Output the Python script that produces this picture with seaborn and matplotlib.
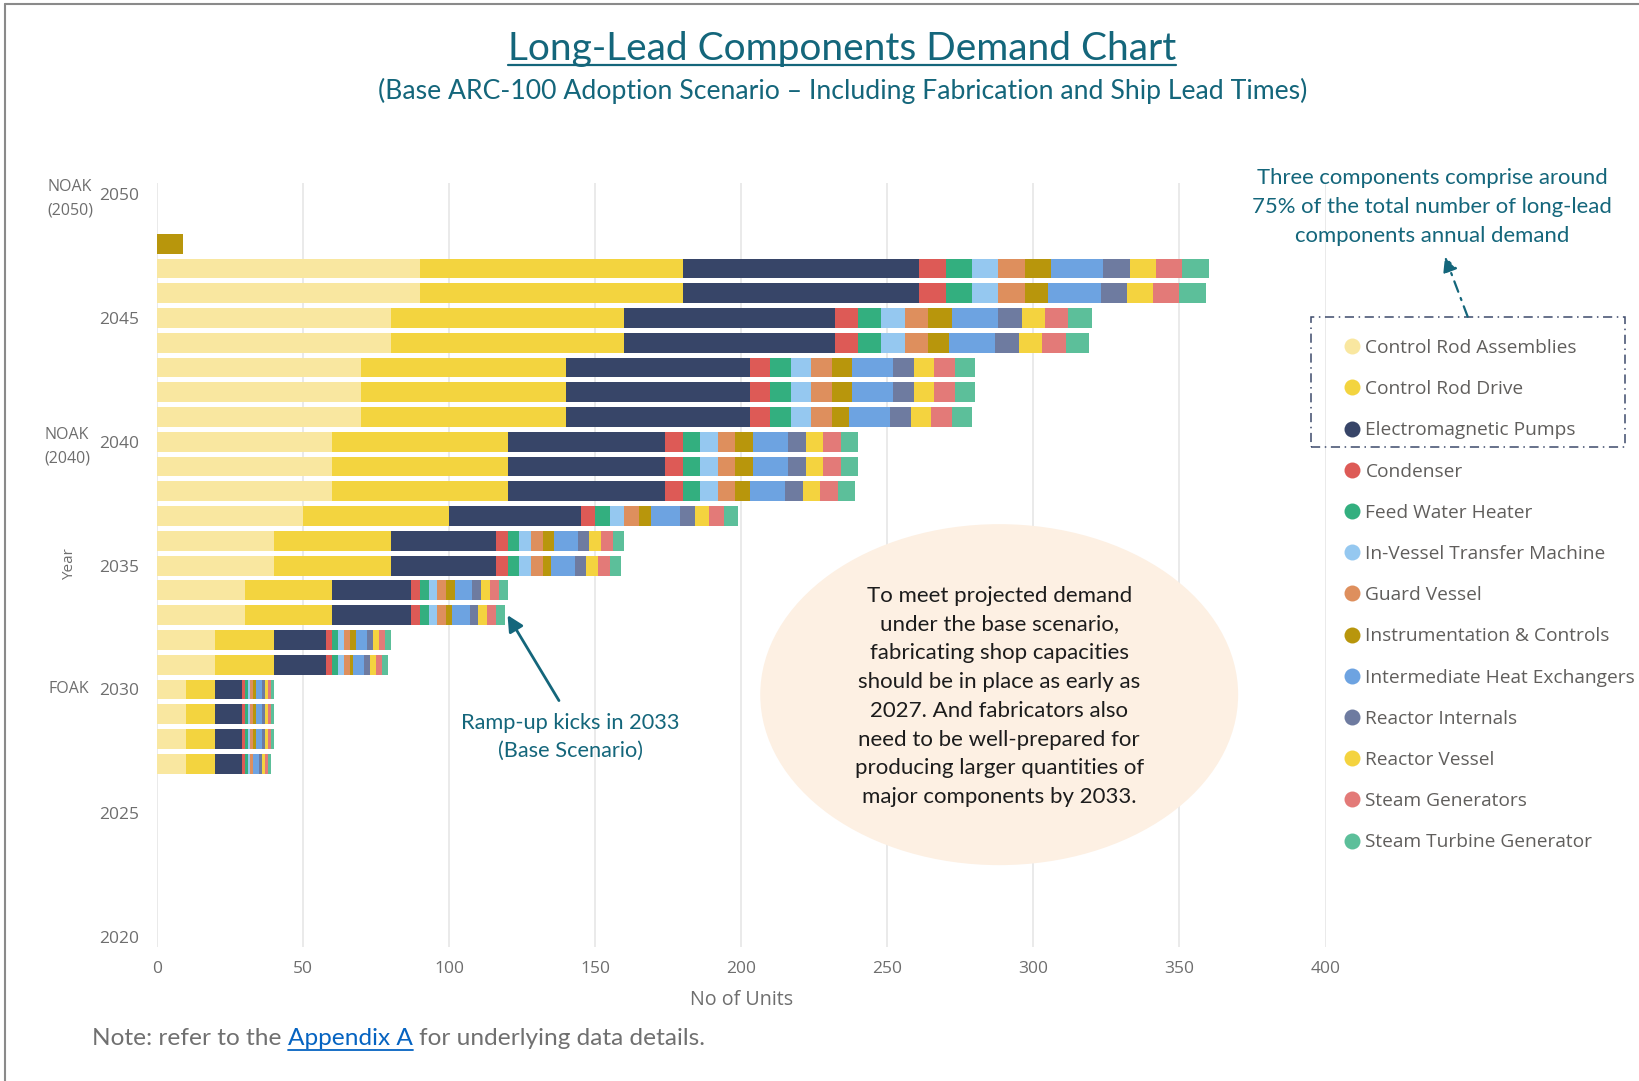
import matplotlib
matplotlib.use("Agg")
import matplotlib.pyplot as plt
from matplotlib.lines import Line2D
from matplotlib.patches import Ellipse, Rectangle, FancyArrowPatch
import numpy as np
import seaborn as sns

# annual demand (units) for each long-lead component, 2027 -> 2048
years = [2027, 2028, 2029, 2030, 2031, 2032, 2033, 2034, 2035, 2036, 2037,
         2038, 2039, 2040, 2041, 2042, 2043, 2044, 2045, 2046, 2047, 2048]

control_rod_assemblies = [10, 10, 10, 10, 20, 20, 30, 30, 40, 40, 50, 60, 60, 60, 70, 70, 70, 80, 80, 90, 90, 0]
control_rod_drive = [10, 10, 10, 10, 20, 20, 30, 30, 40, 40, 50, 60, 60, 60, 70, 70, 70, 80, 80, 90, 90, 0]
electromagnetic_pumps = [9, 9, 9, 9, 18, 18, 27, 27, 36, 36, 45, 54, 54, 54, 63, 63, 63, 72, 72, 81, 81, 0]
condenser = [1, 1, 1, 1, 2, 2, 3, 3, 4, 4, 5, 6, 6, 6, 7, 7, 7, 8, 8, 9, 9, 0]
feed_water_heater = [1, 1, 1, 1, 2, 2, 3, 3, 4, 4, 5, 6, 6, 6, 7, 7, 7, 8, 8, 9, 9, 0]
in_vessel_transfer = [1, 1, 1, 1, 2, 2, 3, 3, 4, 4, 5, 6, 6, 6, 7, 7, 7, 8, 8, 9, 9, 0]
guard_vessel = [1, 1, 1, 1, 2, 2, 3, 3, 4, 4, 5, 6, 6, 6, 7, 7, 7, 8, 8, 9, 9, 0]
instrumentation = [0, 1, 1, 1, 1, 2, 2, 3, 3, 4, 4, 5, 6, 6, 6, 7, 7, 7, 8, 8, 9, 9]
heat_exchangers = [2, 2, 2, 2, 4, 4, 6, 6, 8, 8, 10, 12, 12, 12, 14, 14, 14, 16, 16, 18, 18, 0]
reactor_internals = [1, 1, 1, 1, 2, 2, 3, 3, 4, 4, 5, 6, 6, 6, 7, 7, 7, 8, 8, 9, 9, 0]
reactor_vessel = [1, 1, 1, 1, 2, 2, 3, 3, 4, 4, 5, 6, 6, 6, 7, 7, 7, 8, 8, 9, 9, 0]
steam_generators = [1, 1, 1, 1, 2, 2, 3, 3, 4, 4, 5, 6, 6, 6, 7, 7, 7, 8, 8, 9, 9, 0]
steam_turbine = [1, 1, 1, 1, 2, 2, 3, 3, 4, 4, 5, 6, 6, 6, 7, 7, 7, 8, 8, 9, 9, 0]

components = ["Control Rod Assemblies", "Control Rod Drive", "Electromagnetic Pumps",
              "Condenser", "Feed Water Heater", "In-Vessel Transfer Machine",
              "Guard Vessel", "Instrumentation & Controls", "Intermediate Heat Exchangers",
              "Reactor Internals", "Reactor Vessel", "Steam Generators",
              "Steam Turbine Generator"]
series = [control_rod_assemblies, control_rod_drive, electromagnetic_pumps, condenser,
          feed_water_heater, in_vessel_transfer, guard_vessel, instrumentation,
          heat_exchangers, reactor_internals, reactor_vessel, steam_generators, steam_turbine]
colors = ["#F9E7A0", "#F3D43F", "#374568", "#DD5A56", "#33AF7F", "#95C8F0", "#DE8F5D",
          "#B8960C", "#6DA3E1", "#6E7BA0", "#F4D33F", "#E37A78", "#5CBF9A"]

TEAL = "#14667B"
GRAY = "#6E6E6E"
W, H = 1639, 1081


def fx(px):
    return px / W


def fy(py):
    return 1 - py / H


sns.set_style("white")
plt.rcParams["font.family"] = ["Open Sans", "DejaVu Sans"]

fig = plt.figure(figsize=(W / 100, H / 100), dpi=100)
ax = fig.add_axes([fx(157), fy(947), (1325.5 - 157) / W, (947 - 183) / H])

# stacked bars: draw running totals from the largest down so each segment shows
totals = np.cumsum(np.array(series), axis=0)
yrs = np.array(years)
for i in range(len(components) - 1, -1, -1):
    sns.barplot(x=totals[i], y=yrs, orient="y", native_scale=True, color=colors[i],
                saturation=1, width=0.8, linewidth=0, errorbar=None, ax=ax)

ax.set_xlim(0, 400)
ax.set_ylim(2019.6, 2050.45)
ax.set_xticks(range(0, 401, 50))
ax.set_yticks(range(2020, 2051, 5))
ax.grid(axis="x", color="#E6E6E6", lw=1.2)
ax.grid(axis="y", visible=False)
ax.set_axisbelow(True)
sns.despine(ax=ax, left=True, bottom=True)
ax.tick_params(axis="both", length=0, labelsize=12.5, labelcolor=GRAY)
ax.tick_params(axis="x", pad=10)
ax.tick_params(axis="y", pad=13)
ax.set_ylabel("")
ax.set_xlabel("No of Units", fontsize=14.2, color=GRAY)
ax.xaxis.set_label_coords(0.5, -0.056)

# callout bubble
bubble = Ellipse((288.3, 2029.79), width=163.6, height=13.77, facecolor="#FDF0E3",
                 edgecolor="none", zorder=2)
ax.add_patch(bubble)
ax.text(288.3, 2029.72,
        "To meet projected demand\nunder the base scenario,\nfabricating shop capacities\n"
        "should be in place as early as\n2027. And fabricators also\nneed to be well-prepared for\n"
        "producing larger quantities of\nmajor components by 2033.",
        ha="center", va="center", family="Lato", fontsize=16.0, color="#1C1C1C",
        linespacing=1.55, zorder=3)

# ramp-up callout
ax.annotate("", xy=(120, 2033), xytext=(137.6, 2029.55),
            arrowprops=dict(arrowstyle="-|>", color=TEAL, lw=2, mutation_scale=24,
                            shrinkA=0, shrinkB=0))
ax.text(141.4, 2028.08, "Ramp-up kicks in 2033\n(Base Scenario)", ha="center", va="center",
        family="Lato", fontsize=15.7, color=TEAL, linespacing=1.5)

# side labels
fig.text(fx(70), fy(198.5), "NOAK\n(2050)", ha="center", va="center", fontsize=11.5,
         color=GRAY, linespacing=1.6)
fig.text(fx(67), fy(446.5), "NOAK\n(2040)", ha="center", va="center", fontsize=11.5,
         color=GRAY, linespacing=1.6)
fig.text(fx(69), fy(689), "FOAK", ha="center", va="center", fontsize=11.5, color=GRAY)
fig.text(fx(70), fy(564.5), "Year", rotation=90, ha="center", va="center", fontsize=11,
         color=GRAY)

# titles
title = fig.text(fx(842), fy(60), "Long-Lead Components Demand Chart", ha="center",
                 va="baseline", family="Lato", fontsize=28, color=TEAL)
fig.text(fx(842.5), fy(99),
         "(Base ARC-100 Adoption Scenario \u2013 Including Fabrication and Ship Lead Times)",
         ha="center", va="baseline", family="Lato", fontsize=19.2, color=TEAL)

# legend
handles = [Line2D([], [], marker="o", linestyle="", markersize=11.5, markerfacecolor=c,
                  markeredgewidth=0) for c in colors]
fig.legend(handles, components, loc="upper left", bbox_to_anchor=(fx(1343.4), fy(339)),
           frameon=False, fontsize=13.8, labelcolor="#605E5C", handlelength=0.9,
           handletextpad=0.25, labelspacing=1.21, borderpad=0, borderaxespad=0)

# highlight of the three main components
fig.add_artist(Rectangle((fx(1311), fy(447)), (1625 - 1311) / W, (447 - 317) / H,
                         transform=fig.transFigure, fill=False, edgecolor="#3D4A6B",
                         lw=1.1, ls=(0, (6, 3, 1, 3))))
fig.add_artist(FancyArrowPatch((fx(1467.7), fy(316.7)), (fx(1445), fy(256.7)),
                               transform=fig.transFigure, arrowstyle="-|>",
                               mutation_scale=22, color=TEAL, lw=1.6,
                               linestyle=(0, (5, 3, 1, 3)), shrinkA=0, shrinkB=0))
fig.text(fx(1432), fy(207),
         "Three components comprise around\n75% of the total number of long-lead\n"
         "components annual demand",
         ha="center", va="center", multialignment="center", family="Lato", fontsize=15.9,
         color=TEAL, linespacing=1.54)

# note line with link-styled text
renderer = fig.canvas.get_renderer()
note_kw = dict(family="Lato", fontsize=17.6, va="baseline")


def text_width(s):
    t = fig.text(0, 0, s, **note_kw)
    w = t.get_window_extent(renderer=renderer).width
    t.remove()
    return w


x0 = 92
base = 1045
first = "Note: refer to the"
link = "Appendix A"
rest = "for underlying data details."
x_link = x0 + text_width(first + " " + link) - text_width(link)
x_rest = x0 + text_width(first + " " + link + " " + rest) - text_width(rest)
fig.text(fx(x0), fy(base), first, color="#707070", **note_kw)
fig.text(fx(x_link), fy(base), link, color="#0563C1", **note_kw)
fig.text(fx(x_rest), fy(base), rest, color="#707070", **note_kw)
w_link = text_width(link)
fig.add_artist(Line2D([fx(x_link), fx(x_link + w_link)], [fy(base + 5), fy(base + 5)],
                      transform=fig.transFigure, color="#0563C1", lw=1.3))

# title underline
bb = title.get_window_extent(renderer=renderer)
fig.add_artist(Line2D([bb.x0 / W, bb.x1 / W], [fy(65), fy(65)], transform=fig.transFigure,
                      color=TEAL, lw=1.6))

# page frame
fig.add_artist(Line2D([fx(5), fx(5)], [0, fy(4)], transform=fig.transFigure,
                      color="#8A8A8A", lw=1.5))
fig.add_artist(Line2D([fx(5), 1], [fy(4), fy(4)], transform=fig.transFigure,
                      color="#8A8A8A", lw=1.5))

fig.savefig("out.png", dpi=100)
